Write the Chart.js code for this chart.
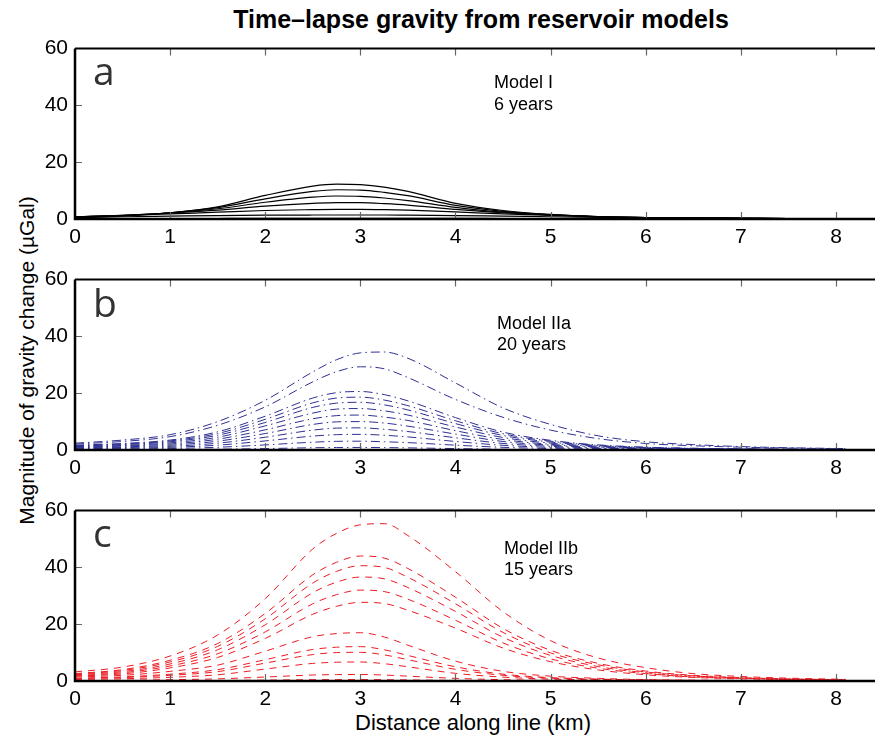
<!DOCTYPE html>
<html>
<head>
<meta charset="utf-8">
<script src="https://cdn.jsdelivr.net/npm/chart.js@4/dist/chart.umd.min.js"></script>
<style>
  body { margin: 0; background: #fff; }
  #fig { position: relative; width: 875px; height: 738px; overflow: hidden;
         font-family: 'Liberation Sans', Arial, sans-serif; color: #000; }
  #fig canvas { position: absolute; left: 0; }
  .txt { position: absolute; line-height: 1; white-space: nowrap; }
  .title { font-size: 25px; font-weight: bold; width: 600px; left: 181px; top: 7px; text-align: center; }
  .xlab { font-size: 22px; width: 400px; left: 273px; top: 712px; text-align: center; }
  .ylab { font-size: 21px; width: 400px; left: -174px; top: 350px; text-align: center; transform: rotate(-90deg); }
  .model { font-size: 18px; }
  .letter { font-family: 'Open Sans', sans-serif; font-size: 39px; color: #333; left: 93px; }
</style>
</head>
<body>
<div id="fig">
  <div class="txt title">Time–lapse gravity from reservoir models</div>
  <div class="txt ylab">Magnitude of gravity change (µGal)</div>
  <div class="txt xlab">Distance along line (km)</div>

  <canvas id="pa" width="875" height="222" style="top:29px"></canvas>
  <canvas id="pb" width="875" height="222" style="top:260px"></canvas>
  <canvas id="pc" width="875" height="222" style="top:491px"></canvas>

  <div class="txt letter" style="top:50px">a</div>
  <div class="txt letter" style="top:282px">b</div>
  <div class="txt letter" style="top:512px">c</div>

  <div class="txt model" style="left:494px;top:73px">Model I</div>
  <div class="txt model" style="left:494px;top:95px">6 years</div>
  <div class="txt model" style="left:497px;top:314px">Model IIa</div>
  <div class="txt model" style="left:497px;top:335px">20 years</div>
  <div class="txt model" style="left:504px;top:539px">Model IIb</div>
  <div class="txt model" style="left:504px;top:560px">15 years</div>
</div>

<script>
// profile positions (km), shared by every curve
const X_KM = [0, 0.5, 1, 1.5, 2, 2.5, 2.75, 3, 3.25, 3.5, 4, 4.5, 5, 5.5, 6, 6.5, 7, 7.5, 8.1];
const X_TICKS = [0, 1, 2, 3, 4, 5, 6, 7, 8];
const Y_TICKS = [0, 20, 40, 60];

// a — Model I, 6 years (µGal)
const A1 = [0.6, 1.1, 2.2, 4.3, 8.3, 11.6, 12.3, 12.1, 11.2, 9.7, 5.5, 3.0, 1.6, 0.8, 0.5, 0.35, 0.25, 0.15, 0.1];
const A2 = [0.7, 1.2, 2.2, 4.0, 7.1, 9.7, 10.3, 10.2, 9.4, 8.2, 4.8, 2.7, 1.5, 0.8, 0.5, 0.35, 0.25, 0.15, 0.1];
const A3 = [0.75, 1.3, 2.2, 3.6, 5.9, 7.7, 8.1, 8.0, 7.4, 6.5, 4.1, 2.4, 1.5, 0.85, 0.5, 0.35, 0.25, 0.15, 0.1];
const A4 = [0.8, 1.3, 2.1, 3.1, 4.5, 5.5, 5.8, 5.75, 5.4, 4.9, 3.4, 2.2, 1.45, 0.85, 0.5, 0.35, 0.25, 0.15, 0.1];
const A5 = [0.8, 1.2, 1.8, 2.4, 3.0, 3.3, 3.4, 3.4, 3.3, 3.1, 2.5, 1.8, 1.3, 0.8, 0.5, 0.35, 0.25, 0.15, 0.1];
const A6 = [0.5, 0.8, 1.0, 1.2, 1.35, 1.4, 1.4, 1.4, 1.4, 1.35, 1.2, 1.0, 0.8, 0.6, 0.4, 0.3, 0.2, 0.15, 0.1];
const A7 = [0.1, 0.12, 0.15, 0.18, 0.2, 0.2, 0.2, 0.2, 0.2, 0.2, 0.2, 0.18, 0.15, 0.12, 0.1, 0.08, 0.06, 0.05, 0.04];

// b — Model IIa, 20 years
const B1 = [2.4, 3.5, 5.4, 10.0, 17.5, 27.5, 31.8, 34.2, 34.5, 32.3, 23.6, 14.8, 9.0, 5.0, 2.9, 1.9, 1.2, 0.8, 0.5];
const B2 = [2.1, 3.0, 4.7, 8.7, 15.2, 24.0, 27.6, 29.3, 28.6, 25.5, 17.8, 11.5, 7.0, 4.0, 2.3, 1.5, 1.0, 0.7, 0.4];
const B3 = [1.7, 2.3, 3.5, 6.4, 11.9, 18.3, 20.2, 20.6, 19.5, 17.3, 11.4, 6.3, 3.4, 1.8, 1.0, 0.62, 0.41, 0.29, 0.2];
const B4 = [1.5, 2.1, 3.2, 5.8, 10.8, 16.6, 18.3, 18.6, 17.6, 15.6, 10.3, 5.7, 3.1, 1.6, 0.9, 0.56, 0.37, 0.26, 0.18];
const B5 = [1.4, 1.9, 2.9, 5.2, 9.7, 15.0, 16.5, 16.8, 15.9, 14.1, 9.3, 5.1, 2.8, 1.5, 0.8, 0.5, 0.34, 0.24, 0.16];
const B6 = [1.2, 1.6, 2.5, 4.5, 8.5, 13.0, 14.4, 14.6, 13.8, 12.3, 8.1, 4.4, 2.4, 1.3, 0.7, 0.44, 0.3, 0.2, 0.14];
const B7 = [1.0, 1.4, 2.1, 3.8, 7.1, 11.0, 12.1, 12.3, 11.6, 10.4, 6.8, 3.7, 2.0, 1.1, 0.6, 0.37, 0.25, 0.17, 0.12];
const B8 = [0.8, 1.1, 1.7, 3.1, 5.8, 9.0, 9.9, 10.0, 9.5, 8.4, 5.6, 3.0, 1.7, 0.9, 0.5, 0.3, 0.2, 0.14, 0.1];
const B9 = [0.65, 0.87, 1.3, 2.4, 4.5, 7.0, 7.7, 7.8, 7.3, 6.5, 4.3, 2.3, 1.3, 0.7, 0.38, 0.23, 0.15, 0.11, 0.08];
const B10 = [0.45, 0.6, 0.94, 1.7, 3.2, 4.9, 5.4, 5.5, 5.2, 4.6, 3.0, 1.65, 0.9, 0.48, 0.27, 0.17, 0.11, 0.08, 0.05];
const B11 = [0.26, 0.35, 0.53, 0.96, 1.8, 2.75, 3.05, 3.1, 2.9, 2.6, 1.7, 0.94, 0.51, 0.27, 0.15, 0.1, 0.06, 0.04, 0.03];
const B12 = [0.1, 0.12, 0.16, 0.28, 0.5, 0.8, 0.88, 0.9, 0.85, 0.75, 0.5, 0.27, 0.15, 0.08, 0.05, 0.03, 0.02, 0.015, 0.01];

// c — Model IIb, 15 years
const C1 = [3.2, 4.9, 8.8, 16.2, 29.0, 46.5, 52.0, 55.0, 55.4, 51.2, 38.5, 24.4, 14.2, 8.1, 4.7, 2.6, 1.6, 1.0, 0.6];
const C2 = [2.6, 4.0, 7.3, 13.2, 23.8, 37.4, 41.8, 44.0, 43.3, 39.6, 29.5, 18.5, 10.8, 6.2, 3.5, 2.0, 1.2, 0.75, 0.45];
const C3 = [2.4, 3.7, 6.7, 12.2, 21.9, 34.5, 38.6, 40.6, 40.0, 36.5, 27.2, 17.1, 9.9, 5.7, 3.2, 1.8, 1.1, 0.7, 0.4];
const C4 = [2.2, 3.3, 6.0, 11.0, 19.8, 31.1, 34.8, 36.6, 36.0, 32.9, 24.5, 15.4, 9.0, 5.1, 2.9, 1.65, 1.0, 0.62, 0.37];
const C5 = [1.9, 2.9, 5.3, 9.6, 17.3, 27.2, 30.4, 32.0, 31.5, 28.8, 21.4, 13.4, 7.8, 4.5, 2.6, 1.4, 0.9, 0.54, 0.32];
const C6 = [1.7, 2.5, 4.6, 8.3, 15.0, 23.5, 26.3, 27.7, 27.3, 24.9, 18.6, 11.6, 6.8, 3.9, 2.2, 1.25, 0.78, 0.47, 0.28];
const C7 = [1.4, 2.0, 3.4, 5.6, 10.5, 15.6, 16.7, 17.0, 15.5, 12.6, 7.0, 3.4, 1.7, 0.94, 0.5, 0.3, 0.2, 0.14, 0.09];
const C8 = [1.0, 1.45, 2.4, 4.0, 7.5, 11.1, 11.9, 12.1, 11.0, 9.0, 5.0, 2.4, 1.2, 0.67, 0.36, 0.22, 0.15, 0.1, 0.06];
const C9 = [0.8, 1.2, 2.0, 3.3, 6.3, 9.3, 10.0, 10.1, 9.2, 7.5, 4.1, 2.0, 1.0, 0.56, 0.3, 0.18, 0.12, 0.08, 0.05];
const C10 = [0.55, 0.8, 1.3, 2.2, 4.2, 6.2, 6.6, 6.7, 6.1, 5.0, 2.7, 1.35, 0.67, 0.37, 0.2, 0.12, 0.08, 0.05, 0.03];
const C11 = [0.2, 0.28, 0.46, 0.76, 1.4, 2.1, 2.26, 2.3, 2.1, 1.7, 0.94, 0.46, 0.23, 0.13, 0.07, 0.04, 0.03, 0.02, 0.01];
const C12 = [0.05, 0.06, 0.1, 0.17, 0.3, 0.46, 0.49, 0.5, 0.46, 0.37, 0.2, 0.1, 0.05, 0.03, 0.02, 0.01, 0.01, 0, 0];

const PANELS = [
  { id: 'pa', curves: [A1, A2, A3, A4, A5, A6, A7], color: '#000000', dash: [], width: 1.2 },
  { id: 'pb', curves: [B1, B2, B3, B4, B5, B6, B7, B8, B9, B10, B11, B12], color: '#2e3192', dash: [9, 4, 1.5, 4], width: 1 },
  { id: 'pc', curves: [C1, C2, C3, C4, C5, C6, C7, C8, C9, C10, C11, C12], color: '#ed1c24', dash: [7, 6], width: 1 },
];

// axes box: thick left/bottom/top lines, small inward ticks (matlab look)
const framePlugin = {
  id: 'frame',
  afterDraw(chart) {
    const { ctx, chartArea: a } = chart;
    const x = chart.scales.x, y = chart.scales.y;
    ctx.save();
    ctx.strokeStyle = '#666';
    ctx.lineWidth = 1.2;
    ctx.beginPath();
    X_TICKS.slice(1).forEach(v => {
      const px = Math.round(x.getPixelForValue(v)) + 0.5;
      ctx.moveTo(px, a.bottom); ctx.lineTo(px, a.bottom - 7);
      ctx.moveTo(px, a.top); ctx.lineTo(px, a.top + 7);
    });
    Y_TICKS.slice(1, -1).forEach(v => {
      const py = Math.round(y.getPixelForValue(v)) + 0.5;
      ctx.moveTo(a.left, py); ctx.lineTo(a.left + 7, py);
    });
    ctx.stroke();
    ctx.strokeStyle = '#000';
    ctx.lineWidth = 2.5;
    ctx.beginPath();
    ctx.moveTo(a.left, a.top); ctx.lineTo(a.left, a.bottom); ctx.lineTo(a.right, a.bottom);
    ctx.stroke();
    ctx.lineWidth = 2;
    ctx.beginPath();
    ctx.moveTo(a.left, a.top); ctx.lineTo(a.right, a.top);
    ctx.stroke();
    ctx.restore();
  }
};

Chart.defaults.font.family = "'Liberation Sans', Arial, sans-serif";
Chart.defaults.font.size = 21;
Chart.defaults.color = '#000';

PANELS.forEach(p => {
  new Chart(document.getElementById(p.id), {
    type: 'line',
    data: {
      datasets: p.curves.map(ys => ({
        data: ys.map((v, i) => ({ x: X_KM[i], y: v })),
        borderColor: p.color,
        borderWidth: p.width,
        borderDash: p.dash,
        pointRadius: 0,
        cubicInterpolationMode: 'monotone',
        fill: false,
      })),
    },
    options: {
      responsive: false, animation: false, events: [],
      layout: { padding: { top: 16, right: 0, left: 0, bottom: 0 } },
      plugins: { legend: { display: false }, tooltip: { enabled: false } },
      scales: {
        x: {
          type: 'linear', min: 0, max: 8.41,
          grid: { display: false, drawTicks: false },
          border: { display: false },
          afterBuildTicks: s => { s.ticks = X_TICKS.map(v => ({ value: v })); },
          ticks: { padding: 6, maxRotation: 0, autoSkip: false },
          afterFit: s => { s.height = 32; },
        },
        y: {
          min: 0, max: 60,
          grid: { display: false, drawTicks: false },
          border: { display: false },
          afterBuildTicks: s => { s.ticks = Y_TICKS.map(v => ({ value: v })); },
          ticks: { padding: 7 },
          afterFit: s => { s.width = 75; },
        },
      },
    },
    plugins: [framePlugin],
  });
});
</script>
</body>
</html>
